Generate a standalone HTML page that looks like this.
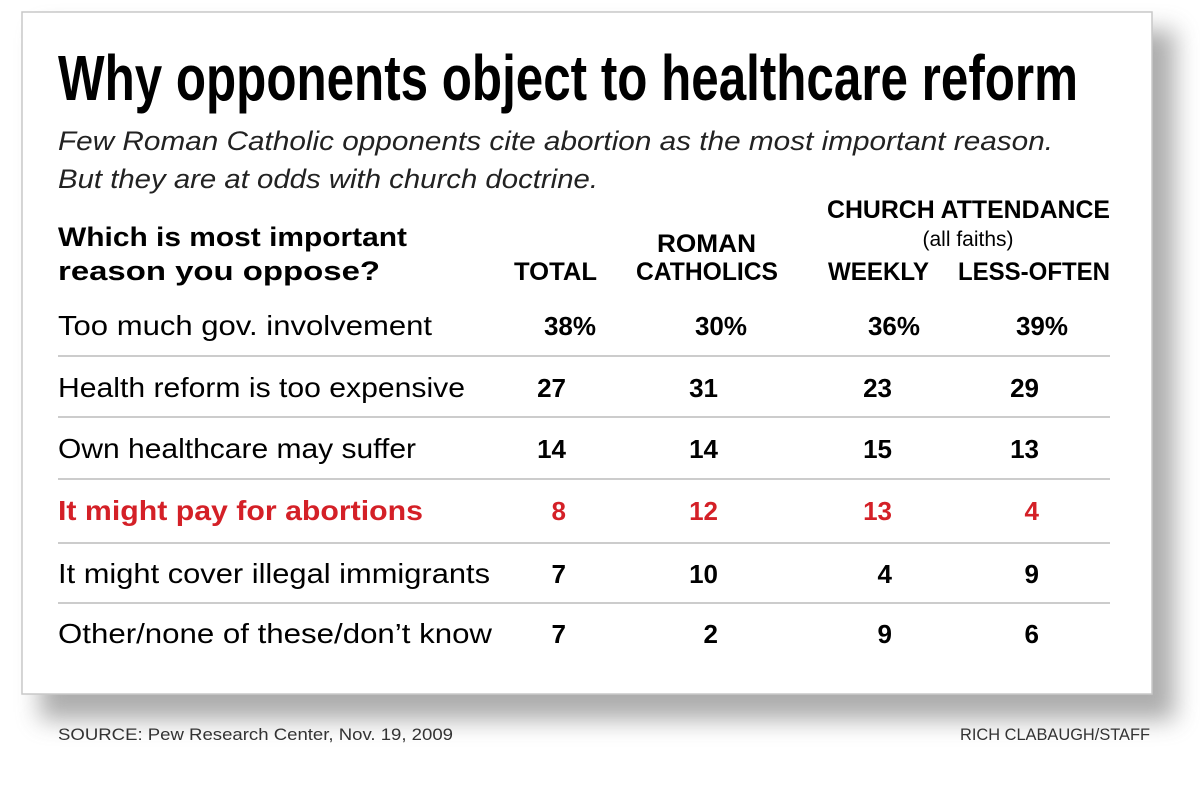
<!DOCTYPE html>
<html><head><meta charset="utf-8"><style>
html,body{margin:0;padding:0;background:#fff;width:1200px;height:800px;overflow:hidden}
</style></head><body>
<svg width="1200" height="800" viewBox="0 0 1200 800" xmlns="http://www.w3.org/2000/svg">
<defs>
<filter id="sh" x="-10%" y="-10%" width="130%" height="130%">
<feGaussianBlur stdDeviation="12"/>
</filter>
</defs>
<rect x="40" y="30" width="1135" height="690" fill="#777" opacity="0.6" filter="url(#sh)"/>
<rect x="22" y="12" width="1130" height="682" fill="#fff" stroke="#c8c8c8" stroke-width="1.5"/>
<g font-family="'Liberation Sans Narrow','Liberation Sans',sans-serif" fill="#000">
<text x="58" y="100" font-size="64" font-weight="bold" textLength="1020" lengthAdjust="spacingAndGlyphs">Why opponents object to healthcare reform</text>
<text x="58" y="150" font-size="27" font-style="italic" fill="#222" textLength="995" lengthAdjust="spacingAndGlyphs">Few Roman Catholic opponents cite abortion as the most important reason.</text>
<text x="58" y="188" font-size="27" font-style="italic" fill="#222" textLength="540" lengthAdjust="spacingAndGlyphs">But they are at odds with church doctrine.</text>
</g>
<g font-family="'Liberation Sans',sans-serif" font-size="25" fill="#000">
<g font-weight="bold">
<text x="58" y="246" font-size="27" textLength="349" lengthAdjust="spacingAndGlyphs">Which is most important</text>
<text x="58" y="280" font-size="27" textLength="322" lengthAdjust="spacingAndGlyphs">reason you oppose?</text>
<text x="514" y="280" textLength="83" lengthAdjust="spacingAndGlyphs">TOTAL</text>
<text x="657" y="252" textLength="99" lengthAdjust="spacingAndGlyphs">ROMAN</text>
<text x="636" y="280" textLength="142" lengthAdjust="spacingAndGlyphs">CATHOLICS</text>
<text x="827" y="218" textLength="283" lengthAdjust="spacingAndGlyphs">CHURCH ATTENDANCE</text>
<text x="828" y="280" textLength="101" lengthAdjust="spacingAndGlyphs">WEEKLY</text>
<text x="958" y="280" textLength="152" lengthAdjust="spacingAndGlyphs">LESS-OFTEN</text>
</g>
<text x="968" y="246" text-anchor="middle" font-size="21">(all faiths)</text>
<g stroke="#bbb" stroke-width="1.5">
<line x1="58" y1="356" x2="1110" y2="356"/>
<line x1="58" y1="417" x2="1110" y2="417"/>
<line x1="58" y1="479" x2="1110" y2="479"/>
<line x1="58" y1="543" x2="1110" y2="543"/>
<line x1="58" y1="603" x2="1110" y2="603"/>
</g>
<g font-size="28">
<text x="58" y="335" textLength="374" lengthAdjust="spacingAndGlyphs">Too much gov. involvement</text>
<text x="58" y="397" textLength="407" lengthAdjust="spacingAndGlyphs">Health reform is too expensive</text>
<text x="58" y="458" textLength="358" lengthAdjust="spacingAndGlyphs">Own healthcare may suffer</text>
<text x="58" y="520" fill="#d42027" font-weight="bold" textLength="365" lengthAdjust="spacingAndGlyphs">It might pay for abortions</text>
<text x="58" y="583" textLength="432" lengthAdjust="spacingAndGlyphs">It might cover illegal immigrants</text>
<text x="58" y="643" textLength="434" lengthAdjust="spacingAndGlyphs">Other/none of these/don’t know</text>
</g>
<g font-weight="bold" font-size="26" text-anchor="end">
<text x="596" y="335">38%</text><text x="747" y="335">30%</text><text x="920" y="335">36%</text><text x="1068" y="335">39%</text>
<text x="566" y="397">27</text><text x="718" y="397">31</text><text x="892" y="397">23</text><text x="1039" y="397">29</text>
<text x="566" y="458">14</text><text x="718" y="458">14</text><text x="892" y="458">15</text><text x="1039" y="458">13</text>
<g fill="#d42027"><text x="566" y="520">8</text><text x="718" y="520">12</text><text x="892" y="520">13</text><text x="1039" y="520">4</text></g>
<text x="566" y="583">7</text><text x="718" y="583">10</text><text x="892" y="583">4</text><text x="1039" y="583">9</text>
<text x="566" y="643">7</text><text x="718" y="643">2</text><text x="892" y="643">9</text><text x="1039" y="643">6</text>
</g>
</g>
<g font-family="'Liberation Sans Narrow','Liberation Sans',sans-serif" font-size="17" fill="#333">
<text x="58" y="740" textLength="395" lengthAdjust="spacingAndGlyphs">SOURCE: Pew Research Center, Nov. 19, 2009</text>
<text x="1150" y="740" text-anchor="end" textLength="190" lengthAdjust="spacingAndGlyphs">RICH CLABAUGH/STAFF</text>
</g>
</svg>
</body></html>
